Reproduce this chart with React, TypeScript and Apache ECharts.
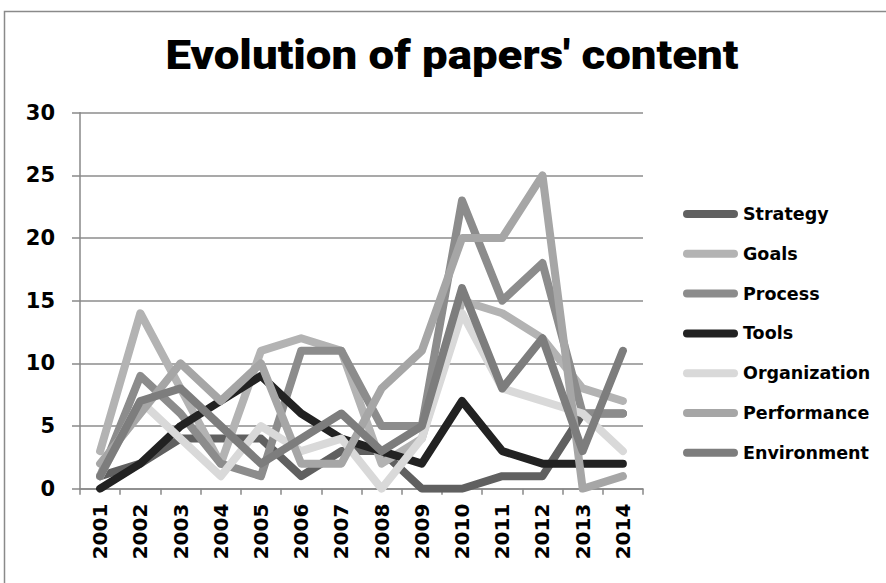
import React, { useEffect, useRef } from "react";
import * as echarts from "echarts";

const years = ["2001","2002","2003","2004","2005","2006","2007","2008","2009","2010","2011","2012","2013","2014"];
const strategy = [1,2,4,4,4,1,3,3,0,0,1,1,6,6];
const goals = [3,14,8,2,11,12,11,2,4,15,14,12,8,7];
const processS = [1,9,6,2,1,11,11,5,5,23,15,18,6,6];
const tools = [0,2,5,7,9,6,4,3,2,7,3,2,2,2];
const organization = [1,7,4,1,5,3,4,0,4,14,8,7,6,3];
const performance = [2,6,10,7,10,2,2,8,11,20,20,25,0,1];
const environment = [1,7,8,5,2,4,6,3,5,16,8,12,3,11];

const seriesNames = ["Strategy","Goals","Process","Tools","Organization","Performance","Environment"];
const seriesData = [strategy, goals, processS, tools, organization, performance, environment];
const seriesColors = ["#606060","#b3b3b3","#8c8c8c","#222222","#d9d9d9","#a6a6a6","#7d7d7d"];

const LABEL_FONT = "'DejaVu Sans', sans-serif";
const TITLE_FONT = "Roboto, 'DejaVu Sans', sans-serif";
const CAPSULE = "path://M4,0 H51 A4,4 0 0 1 51,8 H4 A4,4 0 0 1 4,0 Z";
const TITLE = "Evolution of papers' content";

export default function App() {
  const ref = useRef<HTMLDivElement>(null);
  useEffect(() => {
    if (!ref.current) return;
    const chart = echarts.init(ref.current, null, { renderer: "svg" });
    chart.setOption({
      animation: false,
      backgroundColor: "#ffffff",
      graphic: [
        {
          type: "rect",
          shape: { x: 4.5, y: 11.5, width: 900, height: 600 },
          style: { fill: "none", stroke: "#8a8a8a", lineWidth: 1.5 },
          silent: true,
        },
        {
          type: "text",
          x: 452,
          y: 55,
          scaleX: 1.14,
          scaleY: 1,
          style: {
            text: TITLE,
            align: "center",
            verticalAlign: "middle",
            fontFamily: TITLE_FONT,
            fontWeight: 900,
            fontSize: 40,
            fill: "#000",
          },
          silent: true,
        },
      ],
      legend: {
        orient: "vertical",
        left: 678,
        top: 200,
        itemWidth: 55,
        itemHeight: 8,
        itemGap: 21.8,
        icon: CAPSULE,
        textStyle: { fontFamily: LABEL_FONT, fontWeight: "bold", fontSize: 17.5, color: "#000" },
        data: seriesNames.map((n) => ({ name: n })),
      },
      grid: { left: 80, right: 243, top: 112.7, bottom: 94.3, containLabel: false },
      xAxis: {
        type: "category",
        data: years,
        boundaryGap: true,
        axisLine: { lineStyle: { color: "#888", width: 1.5 } },
        axisTick: { show: true, length: 6, lineStyle: { color: "#888", width: 1.5 } },
        axisLabel: { rotate: 90, margin: 15, fontFamily: LABEL_FONT, fontWeight: "bold", fontSize: 20, color: "#000" },
        splitLine: { show: false },
      },
      yAxis: {
        type: "value",
        min: 0,
        max: 30,
        interval: 5,
        axisLine: { show: true, lineStyle: { color: "#888", width: 1.5 } },
        axisTick: { show: true, length: 8, lineStyle: { color: "#888", width: 1.5 } },
        axisLabel: { margin: 25, fontFamily: LABEL_FONT, fontWeight: "bold", fontSize: 21, color: "#000" },
        splitLine: { show: true, lineStyle: { color: "#8c8c8c", width: 1.5 } },
      },
      series: seriesNames.map((n, i) => ({
        name: n,
        type: "line",
        data: seriesData[i],
        symbol: "none",
        showSymbol: false,
        color: seriesColors[i],
        itemStyle: { color: seriesColors[i] },
        lineStyle: { width: 8, color: seriesColors[i], cap: "round", join: "round" },
      })),
    });
    return () => chart.dispose();
  }, []);
  return <div ref={ref} style={{ position: "fixed", left: 0, top: 0, width: 886, height: 583 }} />;
}
